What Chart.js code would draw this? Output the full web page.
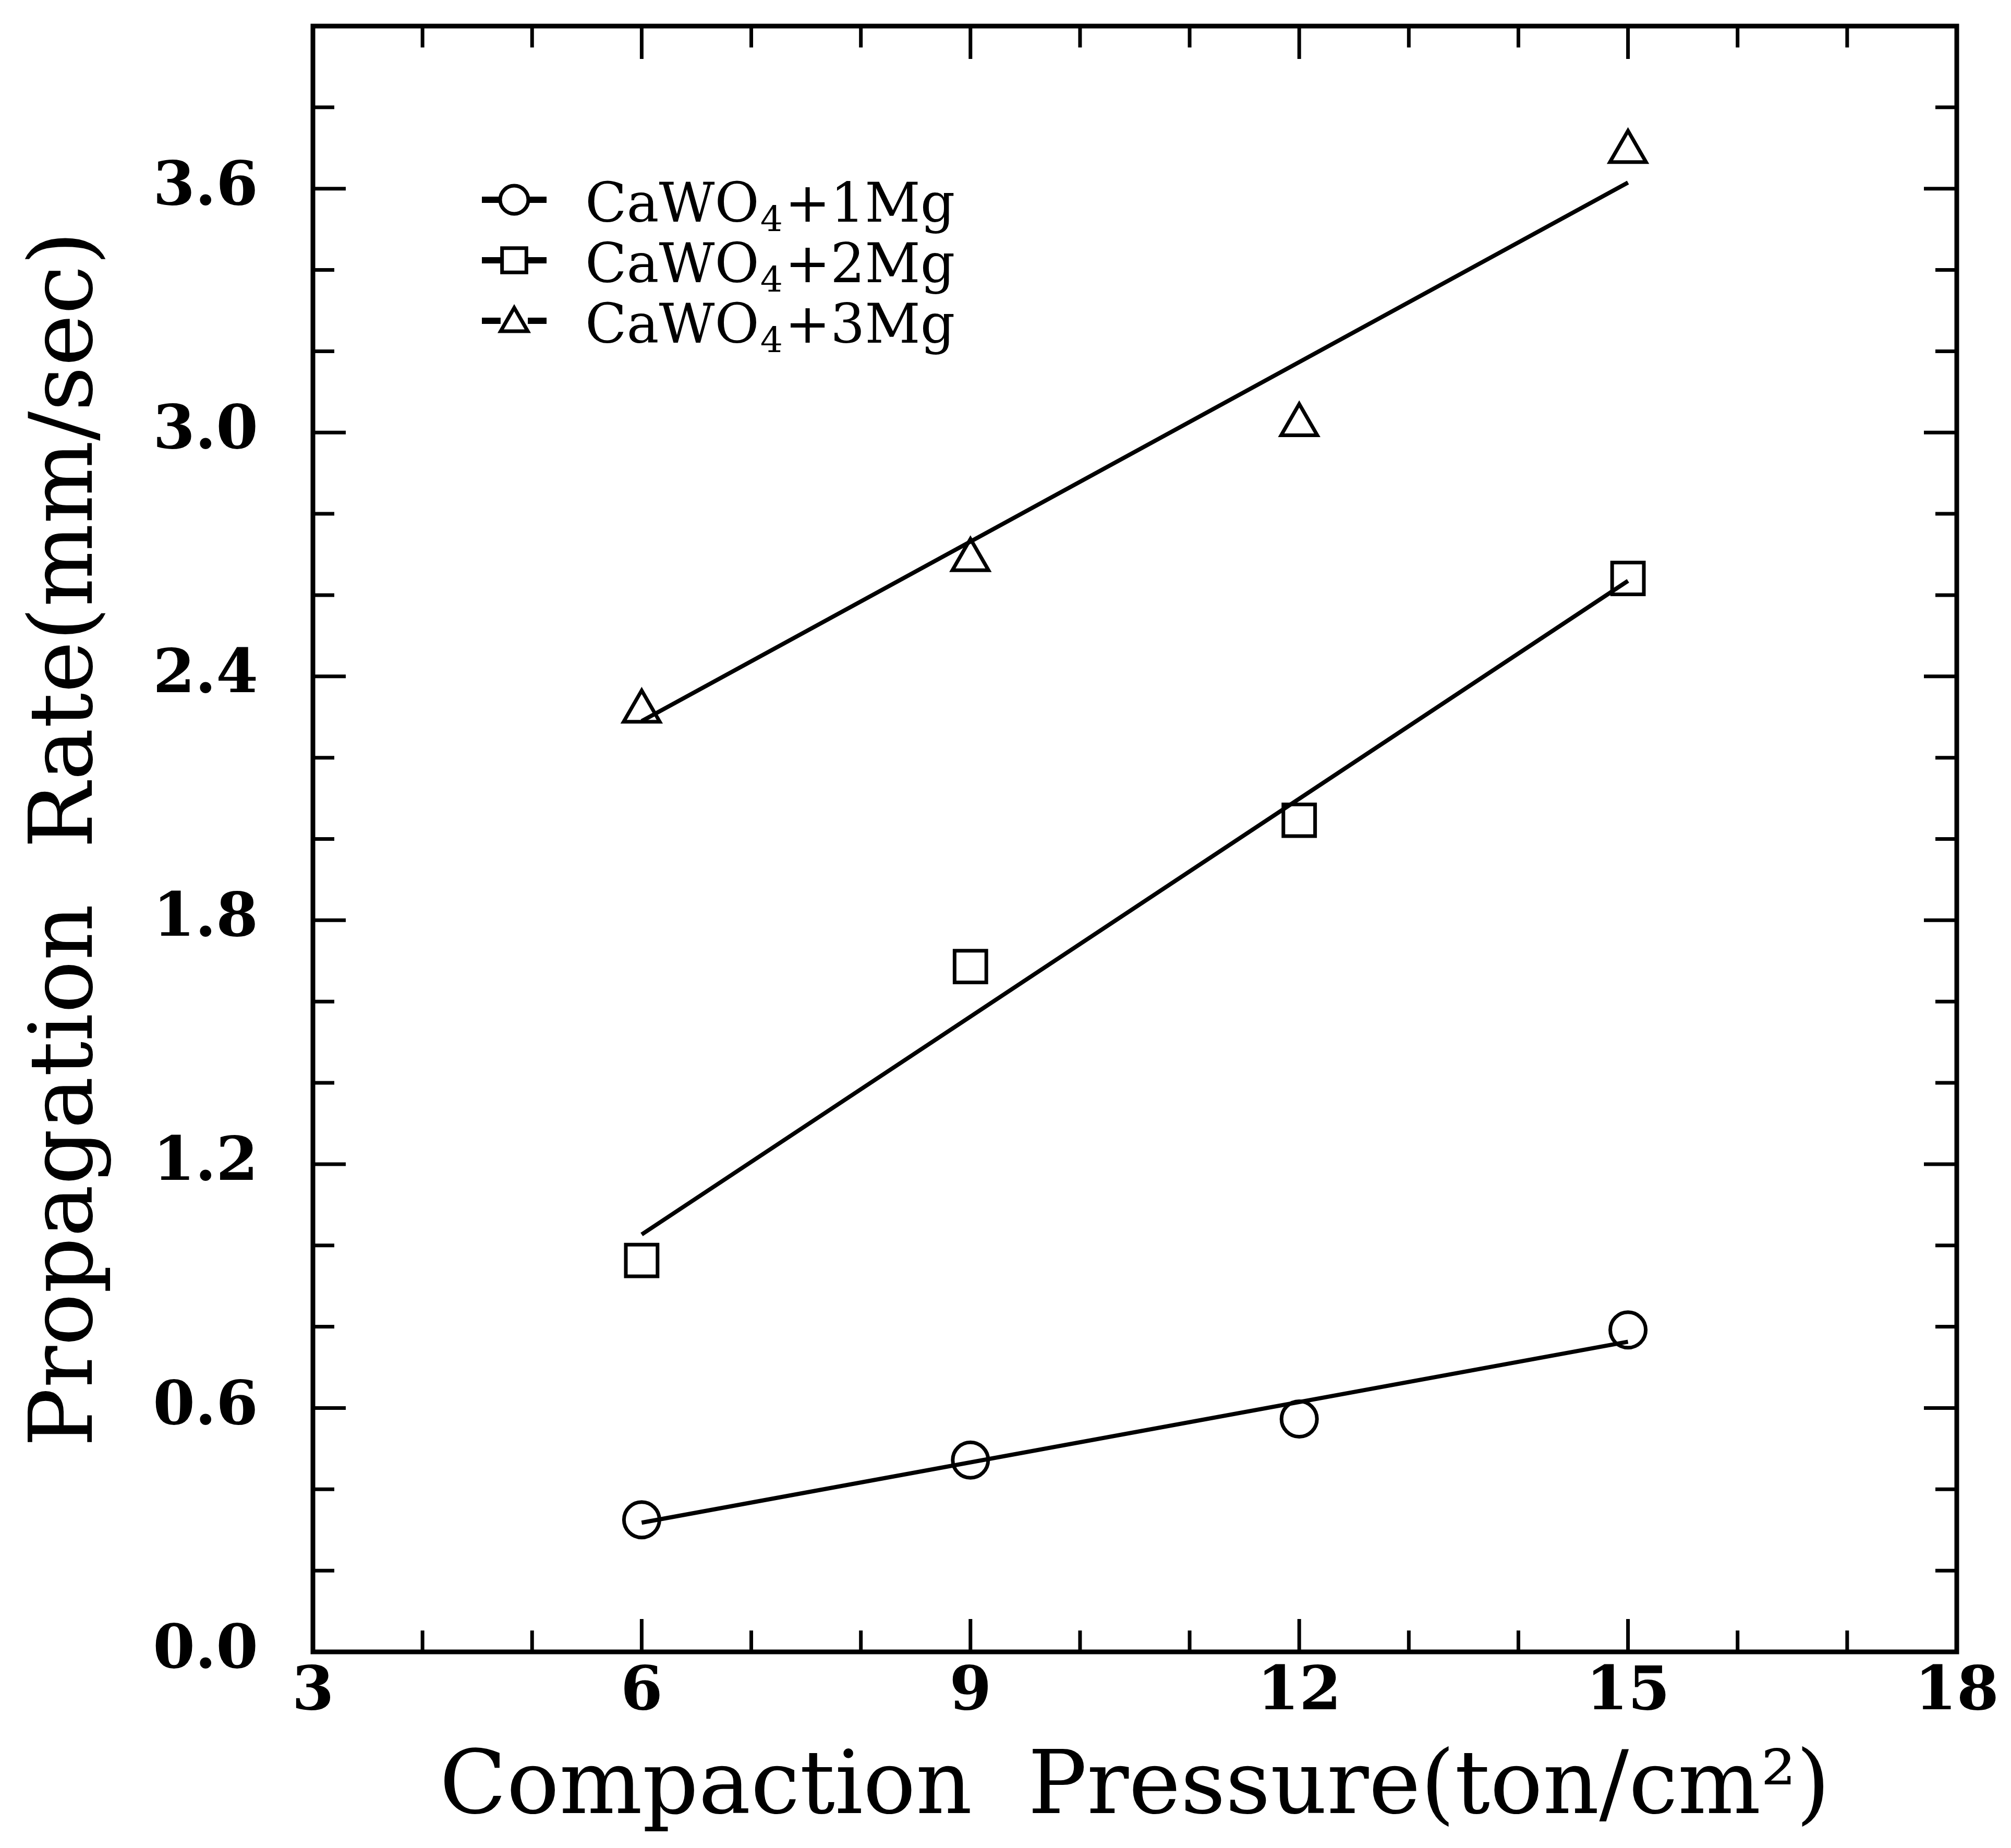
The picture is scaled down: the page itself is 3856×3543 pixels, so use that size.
<!DOCTYPE html>
<html>
<head>
<meta charset="utf-8">
<script src="https://cdn.jsdelivr.net/npm/chart.js@4.4.0/dist/chart.umd.min.js"></script>
<style>
  html, body { margin: 0; padding: 0; background: #ffffff; }
  #wrap { width: 3856px; height: 3543px; }
</style>
</head>
<body>
<div id="wrap"><canvas id="c" width="3856" height="3543"></canvas></div>
<script>
// ---- data ----
const pressure = [6, 9, 12, 15];
const rate1Mg = [0.325, 0.472, 0.573, 0.792];
const rate2Mg = [0.963, 1.686, 2.046, 2.641];
const rate3Mg = [2.314, 2.687, 3.019, 3.691];

const fitPressure = [6, 15];
const fit1Mg = [0.318, 0.763];
const fit2Mg = [1.027, 2.635];
const fit3Mg = [2.290, 3.615];

const seriesBase = ['CaWO', 'CaWO', 'CaWO'];
const seriesSub = ['4', '4', '4'];
const seriesTail = ['+1Mg', '+2Mg', '+3Mg'];
const seriesNames = ['CaWO₄+1Mg', 'CaWO₄+2Mg', 'CaWO₄+3Mg'];
const seriesMarkers = ['circle', 'rect', 'triangle'];

const xTickLabels = ['3', '6', '9', '12', '15', '18'];
const yTickLabels = ['0.0', '0.6', '1.2', '1.8', '2.4', '3.0', '3.6'];
const xTitle = 'Compaction  Pressure(ton/cm²)';
const yTitle = 'Propagation  Rate(mm/sec)';

// ---- helpers ----
function pts(xs, ys) { return xs.map((v, i) => ({ x: v, y: ys[i] })); }

const SERIF = "'DejaVu Serif', 'Liberation Serif', serif";

function drawMarker(ctx, style, x, y, r) {
  ctx.beginPath();
  if (style === 'circle') {
    ctx.arc(x, y, r, 0, Math.PI * 2);
  } else if (style === 'rect') {
    const s = r * Math.SQRT1_2;
    ctx.rect(x - s, y - s, 2 * s, 2 * s);
  } else {
    for (let k = 0; k < 3; k++) {
      const ang = k * 2 * Math.PI / 3;
      const px = x + Math.sin(ang) * r, py = y - Math.cos(ang) * r;
      if (k === 0) ctx.moveTo(px, py); else ctx.lineTo(px, py);
    }
    ctx.closePath();
  }
  ctx.stroke();
}

const framePlugin = {
  id: 'frameTicks',
  afterDraw(chart) {
    const { ctx, chartArea: a } = chart;
    const xs = chart.scales.x, ys = chart.scales.y;
    ctx.save();
    ctx.strokeStyle = '#000';
    ctx.lineCap = 'butt';
    ctx.lineWidth = 7;
    xs.ticks.forEach(t => {
      const px = xs.getPixelForValue(t.value);
      const len = (t.label !== '' && t.label != null) ? 63 : 41;
      ctx.beginPath();
      ctx.moveTo(px, a.bottom); ctx.lineTo(px, a.bottom - len);
      ctx.moveTo(px, a.top); ctx.lineTo(px, a.top + len);
      ctx.stroke();
    });
    ys.ticks.forEach(t => {
      const py = ys.getPixelForValue(t.value);
      const len = (t.label !== '' && t.label != null) ? 63 : 41;
      ctx.beginPath();
      ctx.moveTo(a.left, py); ctx.lineTo(a.left + len, py);
      ctx.moveTo(a.right, py); ctx.lineTo(a.right - len, py);
      ctx.stroke();
    });
    ctx.lineWidth = 9;
    ctx.strokeRect(a.left, a.top, a.right - a.left, a.bottom - a.top);
    ctx.restore();
  }
};

const legendPlugin = {
  id: 'innerLegend',
  afterDraw(chart) {
    const { ctx, chartArea: a } = chart;
    const symX = a.left + 386;
    const textX = a.left + 522;
    const row0 = a.top + 333;
    const rowH = 116;
    const radii = [27, 33, 30];
    ctx.save();
    ctx.strokeStyle = '#000';
    ctx.fillStyle = '#000';
    chart.data.datasets.filter(d => d.legendRow !== undefined).forEach(d => {
      const i = d.legendRow;
      const cy = row0 + i * rowH;
      const r = radii[i];
      const half = (i === 1) ? r * Math.SQRT1_2 : (i === 2 ? r * 0.87 : r);
      ctx.lineWidth = 12;
      ctx.beginPath();
      ctx.moveTo(symX - 62, cy); ctx.lineTo(symX - half, cy);
      ctx.moveTo(symX + half, cy); ctx.lineTo(symX + 62, cy);
      ctx.stroke();
      ctx.lineWidth = 7;
      drawMarker(ctx, seriesMarkers[i], symX, cy + (i === 2 ? 5 : 0), r);
      // text with subscript
      const base = cy + 42;
      ctx.textBaseline = 'alphabetic';
      ctx.textAlign = 'left';
      ctx.font = "104px " + SERIF;
      let tx = textX;
      ctx.fillText(seriesBase[i], tx, base);
      tx += ctx.measureText(seriesBase[i]).width + 2;
      ctx.font = "68px " + SERIF;
      ctx.fillText(seriesSub[i], tx, base + 18);
      tx += ctx.measureText(seriesSub[i]).width + 4;
      ctx.font = "104px " + SERIF;
      ctx.fillText(seriesTail[i], tx, base);
    });
    ctx.restore();
  }
};

const lineStyle = { showLine: true, pointRadius: 0, borderColor: '#000', borderWidth: 8, fill: false, tension: 0 };
const markStyle = { showLine: false, borderColor: '#000', backgroundColor: 'rgba(0,0,0,0)', pointBorderWidth: 7 };

const chart = new Chart(document.getElementById('c'), {
  type: 'scatter',
  data: {
    datasets: [
      Object.assign({ label: seriesNames[0] + ' fit', data: pts(fitPressure, fit1Mg) }, lineStyle),
      Object.assign({ label: seriesNames[1] + ' fit', data: pts(fitPressure, fit2Mg) }, lineStyle),
      Object.assign({ label: seriesNames[2] + ' fit', data: pts(fitPressure, fit3Mg) }, lineStyle),
      Object.assign({ label: seriesNames[0], legendRow: 0, data: pts(pressure, rate1Mg), pointStyle: 'circle', pointRadius: 34 }, markStyle),
      Object.assign({ label: seriesNames[1], legendRow: 1, data: pts(pressure, rate2Mg), pointStyle: 'rect', pointRadius: 43 }, markStyle),
      Object.assign({ label: seriesNames[2], legendRow: 2, data: pts(pressure, rate3Mg), pointStyle: 'triangle', pointRadius: 40 }, markStyle)
    ]
  },
  options: {
    responsive: false,
    devicePixelRatio: 1,
    animation: false,
    layout: { padding: { left: 0, top: 30, right: 104, bottom: 0 } },
    plugins: {
      legend: { display: false },
      tooltip: { enabled: false },
      title: { display: false }
    },
    scales: {
      x: {
        type: 'linear',
        min: 3, max: 18,
        grid: { display: false, drawTicks: false },
        border: { display: false },
        ticks: {
          stepSize: 1,
          autoSkip: false,
          maxRotation: 0,
          padding: 10,
          color: '#000',
          font: { family: SERIF, size: 116, weight: 'bold' },
          callback: (v) => xTickLabels.includes(String(v)) ? String(v) : ''
        },
        title: {
          display: true,
          text: xTitle,
          color: '#000',
          font: { family: SERIF, size: 168 },
          padding: { top: 0, bottom: 10 }
        },
        afterFit: (s) => { s.height = 376; s.paddingLeft = 0; s.paddingRight = 0; }
      },
      y: {
        type: 'linear',
        min: 0, max: 4,
        grid: { display: false, drawTicks: false },
        border: { display: false },
        ticks: {
          stepSize: 0.2,
          autoSkip: false,
          padding: 105,
          color: '#000',
          font: { family: SERIF, size: 116, weight: 'bold' },
          callback: (v) => { const s = Number(v).toFixed(1); return yTickLabels.includes(s) ? s : ''; }
        },
        title: {
          display: true,
          text: yTitle,
          color: '#000',
          font: { family: SERIF, size: 168 },
          padding: { top: 32, bottom: 0 }
        },
        afterFit: (s) => { s.width = 600; s.paddingTop = 0; s.paddingBottom = 0; }
      }
    }
  },
  plugins: [framePlugin, legendPlugin]
});
</script>
</body>
</html>
